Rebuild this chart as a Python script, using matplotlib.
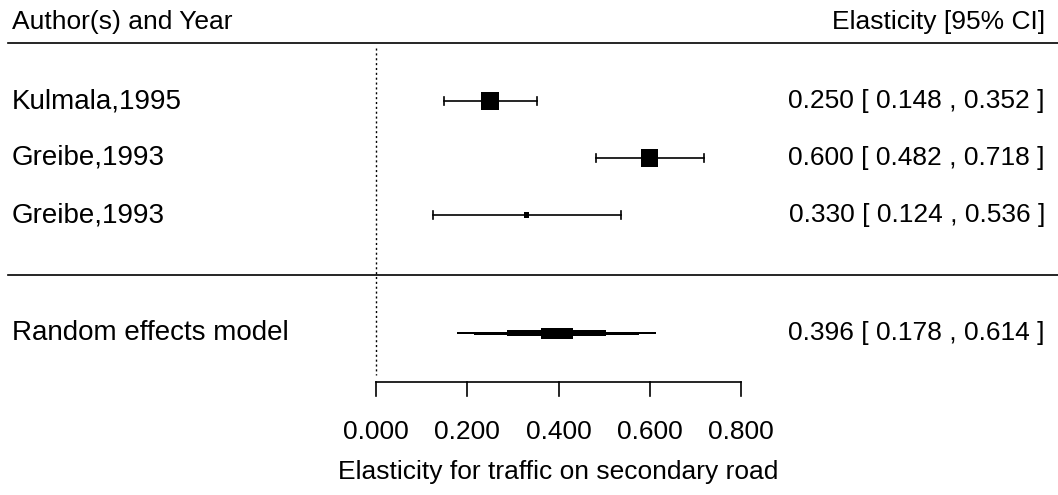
import matplotlib
matplotlib.use("Agg")
import matplotlib.pyplot as plt

plt.rcParams['font.family'] = ['Liberation Sans', 'DejaVu Sans']

# study data
studies = ["Kulmala,1995", "Greibe,1993", "Greibe,1993"]
est = [0.250, 0.600, 0.330]
lower = [0.148, 0.482, 0.124]
upper = [0.352, 0.718, 0.536]
weights = [1.0, 0.95, 0.3]   # relative square size

re_label = "Random effects model"
re_est, re_lower, re_upper = 0.396, 0.178, 0.614

xticks = [0.0, 0.2, 0.4, 0.6, 0.8]

W, H = 1058, 495
fig = plt.figure(figsize=(W / 100, H / 100), dpi=100)
ax = fig.add_axes([0, 0, 1, 1])
# x in elasticity units: 0 -> px 376, 0.8 -> px 741
px0, px1 = 376, 741
scale = (px1 - px0) / 0.8
ax.set_xlim(-px0 / scale, (W - px0) / scale)
ax.set_ylim(H, 0)
ax.axis("off")

x_min, x_max = ax.get_xlim()
fs = 19
fs_lab = 20
row_y = [101, 158, 215]
re_y = 333

# headers
hx_left = x_min + 12 / scale
hx_right = x_min + 1045 / scale
ax.text(hx_left, 22, "Author(s) and Year", fontsize=fs, va="center", ha="left")
ax.text(hx_right, 22, "Elasticity [95% CI]", fontsize=fs, va="center", ha="right")
ax.plot([x_min + 8 / scale, x_max], [43, 43], color="black", lw=1.2)
ax.plot([x_min + 8 / scale, x_max], [275, 275], color="black", lw=1.2)

# reference line at 0
ax.plot([0, 0], [48, 375], color="black", lw=1, linestyle=(0, (1.5, 2)))

for name, e, lo, hi, w, y in zip(studies, est, lower, upper, weights, row_y):
    ax.text(hx_left, y, name, fontsize=fs_lab, va="center", ha="left")
    ax.text(hx_right, y, f"{e:.3f} [ {lo:.3f} , {hi:.3f} ]", fontsize=fs, va="center", ha="right")
    ax.plot([lo, hi], [y, y], color="black", lw=1.2)
    for c in (lo, hi):
        ax.plot([c, c], [y - 4, y + 4], color="black", lw=1.2)
    side = 18 * w
    ax.add_patch(plt.Rectangle((e - side / 2 / scale, y - side / 2), side / scale, side,
                               color="black", lw=0))

# summary estimate: stepped diamond
ax.text(hx_left, re_y, re_label, fontsize=fs_lab, va="center", ha="left")
ax.text(hx_right, re_y, f"{re_est:.3f} [ {re_lower:.3f} , {re_upper:.3f} ]",
        fontsize=fs, va="center", ha="right")
half = (re_upper - re_lower) / 2
levels = [1.2, 3, 6, 11]
bounds = [half, half * 0.83, half * 0.5, half * 0.16]
for b, t in zip(bounds, levels):
    ax.add_patch(plt.Rectangle((re_est - b, re_y - t / 2), 2 * b, t, color="black", lw=0))

# x axis
ax.plot([xticks[0], xticks[-1]], [382, 382], color="black", lw=1.2)
for t in xticks:
    ax.plot([t, t], [382, 396], color="black", lw=1.2)
    ax.text(t, 432, f"{t:.3f}", fontsize=fs, ha="center", va="center")
ax.text(0.4, 472, "Elasticity for traffic on secondary road", fontsize=fs, ha="center", va="center")

fig.savefig("out.png", dpi=100)
